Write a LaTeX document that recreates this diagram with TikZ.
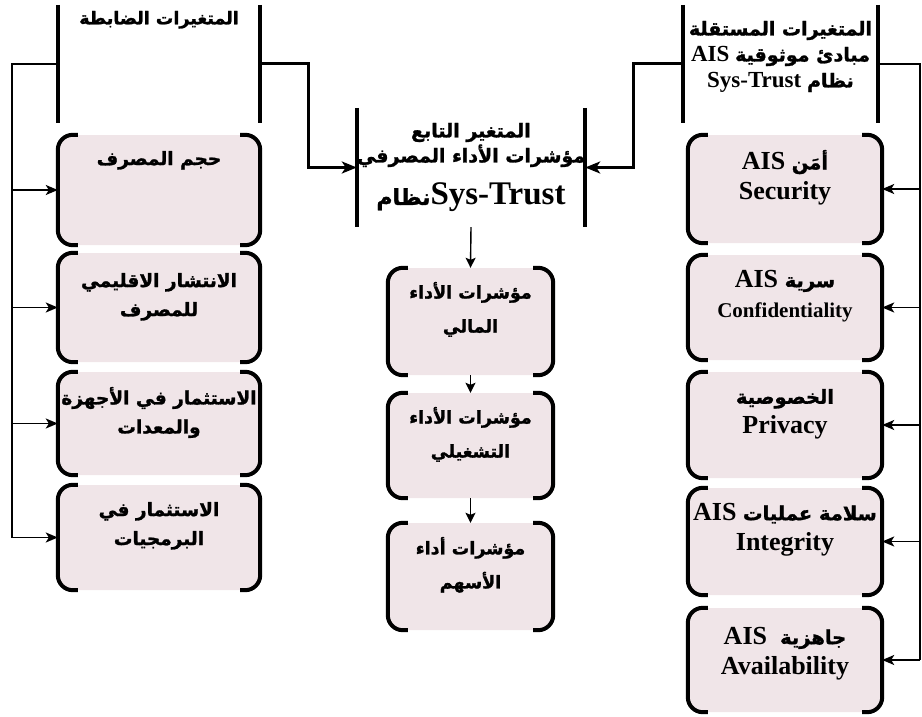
\documentclass[tikz,border=0pt]{standalone}
\usepackage{fontspec}
\setmainfont{Liberation Serif}
\newfontfamily\arabicfont[Script=Arabic,FakeBold=1.4]{DejaVu Sans}
\TeXXeTstate=1
\usetikzlibrary{positioning,arrows.meta,calc}
\newcommand\arsize{18}
\newcommand\ar[1]{{\arabicfont\fontsize{\arsize}{\arsize}\selectfont\beginR #1\endR}}
\definecolor{boxfill}{RGB}{240,229,232}
\tikzset{
  box/.style={fill=boxfill, rounded corners=15pt, inner sep=0pt},
  frame/.style={inner sep=0pt},
  bar/.style={line width=4.5pt},
  bracket/.style={line width=4pt, rounded corners=15pt},
  boxtext/.style={align=center, inner sep=0pt, font=\bfseries\fontsize{20}{29}\selectfont\def\arsize{18.5}},
  midtext/.style={boxtext, font=\bfseries\fontsize{20}{34}\selectfont\def\arsize{17.5}},
  aistext/.style={boxtext, font=\bfseries\fontsize{26}{30}\selectfont\def\arsize{19.5}},
  bus/.style={line width=1.6pt},
  feed/.style={line width=1.6pt, -{Stealth[length=12pt,width=10pt,inset=3pt]}},
  link/.style={line width=3pt, -{Stealth[length=15pt,width=12pt,inset=4pt]}},
  flow/.style={line width=1.4pt, -{Stealth[length=10pt,width=10pt,inset=2pt]}},
}
\begin{document}
\begin{tikzpicture}[x=1pt,y=-1pt]
\def\brEnd{20pt}
\useasboundingbox (0,0) rectangle (922,717);
\node[frame, minimum width=202pt, minimum height=118pt] (lh) at (159,64) {};
\node[frame, minimum width=228pt, minimum height=119pt] (ch) at (471,167.5) {};
\node[frame, minimum width=195pt, minimum height=118pt] (rh) at (780.5,64) {};
\foreach \h in {lh, ch, rh} {
    \draw[bar] (\h.north west) -- (\h.south west);
    \draw[bar] (\h.north east) -- (\h.south east);
}
\node[boxtext, below=6pt of lh.north, font=\bfseries\fontsize{20}{24}\selectfont\def\arsize{17.5}] (lht) {\ar{المتغيرات الضابطة}};
\node[boxtext, below=15pt of ch.north, font=\bfseries\fontsize{21}{25}\selectfont\def\arsize{19}] (cht)
    {\ar{المتغير التابع}\\ \ar{مؤشرات الأداء المصرفي}\\[15pt] {\fontsize{33}{33}\selectfont\def\arsize{22}\ar{نظام}Sys-Trust}};
\node[boxtext, below=16pt of rh.north, font=\bfseries\fontsize{23}{26}\selectfont\def\arsize{19}] (rht)
    {\ar{المتغيرات المستقلة}\\ AIS \ar{مبادئ موثوقية}\\ Sys-Trust \ar{نظام}};
\node[box, minimum width=202pt, minimum height=110pt] (l1) at (159,190) {};
\node[box, minimum width=202pt, minimum height=109pt] (l2) at (159,307.5) {};
\node[box, minimum width=202pt, minimum height=103pt] (l3) at (159,423.5) {};
\node[box, minimum width=202pt, minimum height=105pt] (l4) at (159,537.5) {};
\node[box, minimum width=165pt, minimum height=107pt] (c1) at (470.5,321.5) {};
\node[box, minimum width=165pt, minimum height=105pt] (c2) at (470.5,445.5) {};
\node[box, minimum width=165pt, minimum height=107pt] (c3) at (470.5,576.5) {};
\node[box, minimum width=194pt, minimum height=108pt] (r1) at (785,189) {};
\node[box, minimum width=194pt, minimum height=105pt] (r2) at (785,307.5) {};
\node[box, minimum width=194pt, minimum height=106pt] (r3) at (785,425) {};
\node[box, minimum width=194pt, minimum height=107pt] (r4) at (785,541.5) {};
\node[box, minimum width=194pt, minimum height=104pt] (r5) at (785,660) {};
\foreach \b in {l1, l2, l3, l4, c1, c2, c3, r1, r2, r3, r4, r5} {
    \draw[bracket] ([xshift=\brEnd]\b.north west) -- (\b.north west) -- (\b.south west) -- ([xshift=\brEnd]\b.south west);
    \draw[bracket] ([xshift=-\brEnd]\b.north east) -- (\b.north east) -- (\b.south east) -- ([xshift=-\brEnd]\b.south east);
}
\node[boxtext, below=16pt of l1.north] (l1t) {\ar{حجم المصرف}};
\node[boxtext, below=20pt of l2.north] (l2t) {\ar{الانتشار الاقليمي}\\ \ar{للمصرف}};
\node[boxtext, below=15pt of l3.north] (l3t) {\ar{الاستثمار في الأجهزة}\\ \ar{والمعدات}};
\node[boxtext, below=17pt of l4.north] (l4t) {\ar{الاستثمار في}\\ \ar{البرمجيات}};
\node[midtext, below=14pt of c1.north] (c1t) {\ar{مؤشرات الأداء}\\ \ar{المالي}};
\node[midtext, below=14pt of c2.north] (c2t) {\ar{مؤشرات الأداء}\\ \ar{التشغيلي}};
\node[midtext, below=14pt of c3.north] (c3t) {\ar{مؤشرات أداء}\\ \ar{الأسهم}};
\node[aistext, below=15pt of r1.north] (r1t) {AIS \ar{أمَن}\\ Security};
\node[aistext, below=15pt of r2.north] (r2t) {AIS \ar{سرية}\\ {\fontsize{21}{30}\selectfont Confidentiality}};
\node[aistext, below=17pt of r3.north] (r3t) {\ar{الخصوصية}\\ Privacy};
\node[aistext, below=15pt of r4.north] (r4t) {AIS \ar{سلامة عمليات}\\ Integrity};
\node[aistext, below=19pt of r5.north] (r5t) {AIS\ \ \ar{جاهزية}\\ Availability};
\coordinate (lbus) at (12,0);
\coordinate (rbus) at (920,0);
\coordinate (lj) at (308,0);
\coordinate (rj) at (633,0);
\draw[bus] (lh.west) -| (lbus |- l4.west);
\foreach \b in {l1, l2, l3, l4}
    \draw[feed] (lbus |- \b.west) -- (\b.west);
\draw[bus] (rh.east) -| (rbus |- r5.east);
\foreach \b in {r1, r2, r3, r4, r5}
    \draw[feed] (rbus |- \b.east) -- (\b.east);
\draw[link] (lh.east) -| (lj |- ch.west) -- (ch.west);
\draw[link] (rh.west) -| (rj |- ch.east) -- (ch.east);
\draw[flow] (ch.south) -- (c1.north);
\draw[flow] (c1.south) -- (c2.north);
\draw[flow] (c2.south) -- (c3.north);
\end{tikzpicture}
\end{document}
